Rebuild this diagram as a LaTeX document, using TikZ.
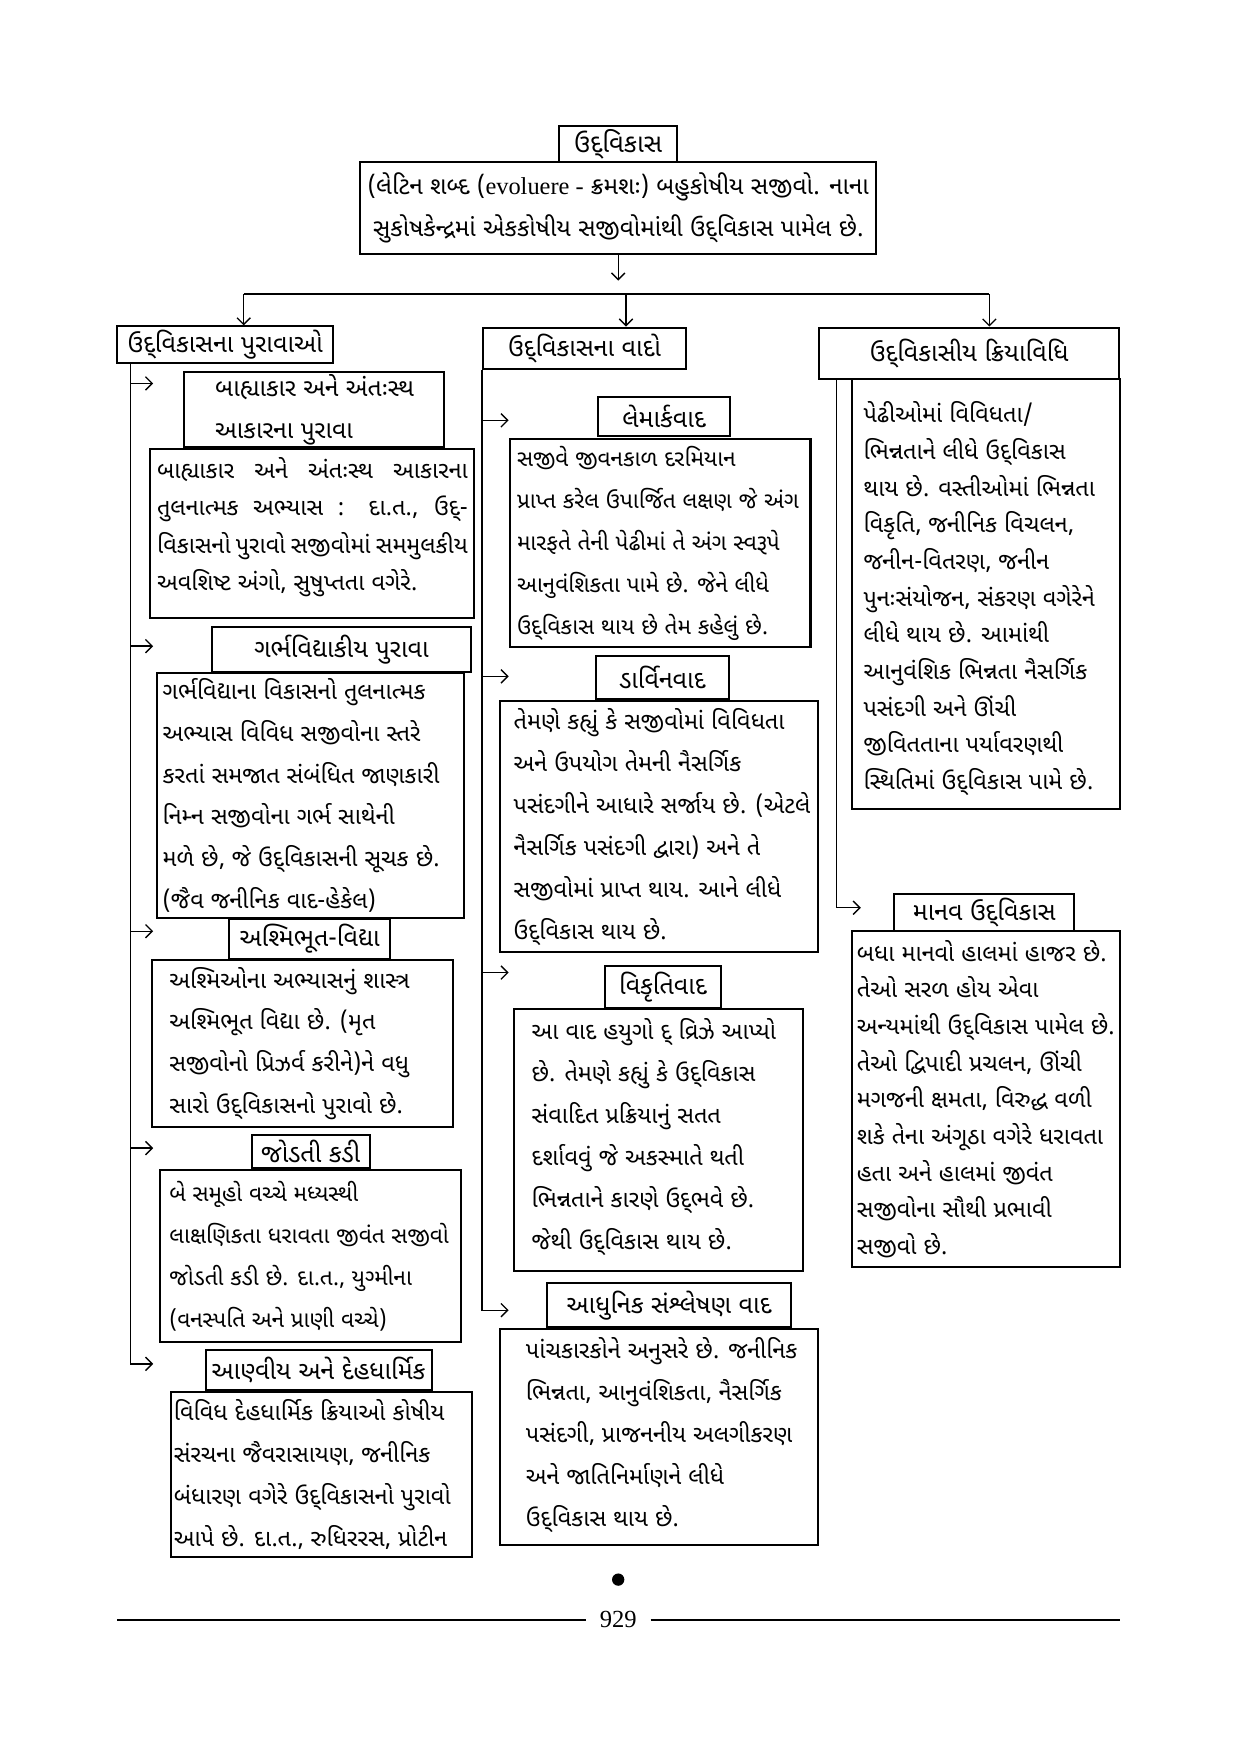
\documentclass[tikz,border=0pt]{standalone}
\usepackage{fontspec}
\setmainfont{Noto Sans Gujarati UI}[Script=Gujarati]
\newfontfamily\lat{Liberation Serif}
\usetikzlibrary{arrows.meta}
\newcommand\zn{^^^^200c}
\begin{document}
\begin{tikzpicture}[x=0.5pt,y=-0.5pt,
  box/.style={draw, line width=0.9pt, inner sep=0pt},
  hd/.style={box, align=center, font=\fontsize{11.2}{19}\selectfont},
  txt/.style={inner sep=0pt, anchor=west, align=left, font=\fontsize{10.5}{18.75}\selectfont},
  txs/.style={txt, font=\fontsize{10.1}{18.75}\selectfont},
  txc/.style={txt, font=\fontsize{10.5}{16.4}\selectfont},
  cn/.style={line width=0.6pt},
  ar/.style={cn, -{Straight Barb[length=3pt,width=6pt]}},
]
\useasboundingbox (0,0) rectangle (1110,1569);

% top
\node[hd, minimum width=53pt, minimum height=16pt, font=\fontsize{11.5}{19}\selectfont] (title) at (553,129) {ઉદ્\zn વિકાસ};
\node[hd, minimum width=231pt, minimum height=41pt, font=\fontsize{10.9}{19}\selectfont] (def) at (553,186)
  {(લેટિન શબ્દ ({\lat evoluere -} ક્રમશઃ) બહુકોષીય સજીવો. નાના\\ સુકોષકેન્દ્રમાં એકકોષીય સજીવોમાંથી ઉદ્\zn વિકાસ પામેલ છે.};

% column headers
\node[hd, minimum width=96.5pt, minimum height=16.5pt] (c1) at (201.5,308.5) {ઉદ્\zn વિકાસના પુરાવાઓ};
\node[hd, minimum width=91pt, minimum height=18.5pt] (c2) at (523,311.5) {ઉદ્\zn વિકાસના વાદો};
\node[hd, minimum width=134pt, minimum height=23pt] (c3) at (867,316) {ઉદ્\zn વિકાસીય ક્રિયાવિધિ};

% bus
\coordinate (dA) at (553,251);
\coordinate (busL) at (218,263);
\coordinate (busM) at (560,263);
\coordinate (busR) at (885,263);
\draw[ar] (def.south) -- (dA);
\draw[cn] (busL) -- (busR);
\draw[ar] (busL) -- (busL |- c1.north);
\draw[ar] (busM) -- (busM |- c2.north);
\draw[ar] (busR) -- (busR |- c3.north);

% column 1
\node[box, minimum width=116pt, minimum height=33.5pt] (h1) at (281,366.5) {};
\node[txt, font=\fontsize{11}{19}\selectfont] (h1t) at ([xshift=14pt]h1.west) {બાહ્યાકાર અને અંતઃસ્થ\\ આકારના પુરાવા};
\node[box, minimum width=145pt, minimum height=75.5pt] (b1) at (279,477.5) {};
\node[txt, align=justify, text width=139pt, yshift=3pt, font=\fontsize{10.5}{16.6}\selectfont] (b1t) at ([xshift=3.5pt]b1.west)
  {બાહ્યાકાર અને અંતઃસ્થ આકારના\linebreak તુલનાત્મક અભ્યાસ : દા.ત., ઉદ્-\linebreak વિકાસનો પુરાવો સજીવોમાં સમમુલકીય\linebreak અવશિષ્ટ અંગો, સુષુપ્તતા વગેરે.\par};
\node[hd, minimum width=115.5pt, minimum height=20pt] (h2) at (305.5,581) {ગર્ભવિદ્યાકીય પુરાવા};
\node[box, minimum width=137.5pt, minimum height=109.5pt] (b2) at (277.5,711.5) {};
\node[txt] (b2t) at ([xshift=3pt]b2.west)
  {ગર્ભવિદ્યાના વિકાસનો તુલનાત્મક\\ અભ્યાસ વિવિધ સજીવોના સ્તરે\\ કરતાં સમજાત સંબંધિત જાણકારી\\ નિમ્ન સજીવોના ગર્ભ સાથેની\\ મળે છે, જે ઉદ્\zn વિકાસની સૂચક છે.\\ (જૈવ જનીનિક વાદ-હેકેલ)};
\node[hd, minimum width=72pt, minimum height=18pt] (h3) at (277,840) {અશ્મિભૂત-વિદ્યા};
\node[box, minimum width=134.5pt, minimum height=74.5pt] (b3) at (270.5,933.5) {};
\node[txt] (b3t) at ([xshift=8pt]b3.west)
  {અશ્મિઓના અભ્યાસનું શાસ્ત્ર\\ અશ્મિભૂત વિદ્યા છે. (મૃત\\ સજીવોનો પ્રિઝર્વ કરીને)ને વધુ\\ સારો ઉદ્\zn વિકાસનો પુરાવો છે.};
\node[hd, minimum width=53pt, minimum height=15pt] (h4) at (278,1030) {જોડતી કડી};
\node[box, minimum width=134.5pt, minimum height=76.5pt] (b4) at (277.5,1123.5) {};
\node[txs] (b4t) at ([xshift=4.5pt]b4.west)
  {બે સમૂહો વચ્ચે મધ્યસ્થી\\ લાક્ષણિકતા ધરાવતા જીવંત સજીવો\\ જોડતી કડી છે. દા.ત., યુગ્મીના\\ (વનસ્પતિ અને પ્રાણી વચ્ચે)};
\node[hd, minimum width=101pt, minimum height=17.5pt] (h5) at (285,1225.5) {આણ્વીય અને દેહધાર્મિક};
\node[box, minimum width=134.5pt, minimum height=74pt] (b5) at (287.5,1319) {};
\node[txt] (b5t) at ([xshift=1.5pt]b5.west)
  {વિવિધ દેહધાર્મિક ક્રિયાઓ કોષીય\\ સંરચના જૈવરાસાયણ, જનીનિક\\ બંધારણ વગેરે ઉદ્\zn વિકાસનો પુરાવો\\ આપે છે. દા.ત., રુધિરરસ, પ્રોટીન};

\coordinate (t1) at (117,325);
\coordinate (a1) at (137,343);
\coordinate (a2) at (137,578);
\coordinate (a3) at (137,833);
\coordinate (a4) at (137,1027);
\coordinate (a5) at (137,1220);
\draw[ar] (t1) |- (a5);
\draw[ar] (t1 |- a1) -- (a1);
\draw[ar] (t1 |- a2) -- (a2);
\draw[ar] (t1 |- a3) -- (a3);
\draw[ar] (t1 |- a4) -- (a4);

% column 2
\node[hd, minimum width=59pt, minimum height=17.5pt] (l1h) at (594,372.5) {લેમાર્કવાદ};
\node[box, minimum width=134.5pt, minimum height=93pt] (l1b) at (590.5,486) {};
\node[txs] (l1t) at ([xshift=3.5pt]l1b.west)
  {સજીવે જીવનકાળ દરમિયાન\\ પ્રાપ્ત કરેલ ઉપાર્જિત લક્ષણ જે અંગ\\ મારફતે તેની પેઢીમાં તે અંગ સ્વરૂપે\\ આનુવંશિકતા પામે છે. જેને લીધે\\ ઉદ્\zn વિકાસ થાય છે તેમ કહેલું છે.};
\node[hd, minimum width=59.5pt, minimum height=19pt] (l2h) at (592.5,606) {ડાર્વિનવાદ};
\node[box, minimum width=142.5pt, minimum height=112.5pt] (l2b) at (589.5,739.5) {};
\node[txt] (l2t) at ([xshift=6.5pt]l2b.west)
  {તેમણે કહ્યું કે સજીવોમાં વિવિધતા\\ અને ઉપયોગ તેમની નૈસર્ગિક\\ પસંદગીને આધારે સર્જાય છે. (એટલે\\ નૈસર્ગિક પસંદગી દ્વારા) અને તે\\ સજીવોમાં પ્રાપ્ત થાય. આને લીધે\\ ઉદ્\zn વિકાસ થાય છે.};
\node[hd, minimum width=52pt, minimum height=19pt] (l3h) at (593,883) {વિકૃતિવાદ};
\node[box, minimum width=129pt, minimum height=117pt] (l3b) at (589,1020) {};
\node[txt, yshift=1.5pt] (l3t) at ([xshift=8pt]l3b.west)
  {આ વાદ હયુગો દ્\zn\ વ્રિઝે આપ્યો\\ છે. તેમણે કહ્યું કે ઉદ્\zn વિકાસ\\ સંવાદિત પ્રક્રિયાનું સતત\\ દર્શાવવું જે અકસ્માતે થતી\\ ભિન્નતાને કારણે ઉદ્\zn ભવે છે.\\ જેથી ઉદ્\zn વિકાસ થાય છે.};
\node[hd, minimum width=109.5pt, minimum height=19.5pt] (l4h) at (598.5,1167.5) {આધુનિક સંશ્લેષણ વાદ};
\node[box, minimum width=142.5pt, minimum height=96.5pt] (l4b) at (589.5,1285.5) {};
\node[txt, yshift=1pt] (l4t) at ([xshift=12pt]l4b.west)
  {પાંચકારકોને અનુસરે છે. જનીનિક\\ ભિન્નતા, આનુવંશિકતા, નૈસર્ગિક\\ પસંદગી, પ્રાજનનીય અલગીકરણ\\ અને જાતિનિર્માણને લીધે\\ ઉદ્\zn વિકાસ થાય છે.};

\coordinate (m1) at (455,376);
\coordinate (m2) at (455,605);
\coordinate (m3) at (455,870);
\coordinate (m4) at (455,1172);
\draw[ar] (c2.south west) |- (m4);
\draw[ar] (c2.south west |- m1) -- (m1);
\draw[ar] (c2.south west |- m2) -- (m2);
\draw[ar] (c2.south west |- m3) -- (m3);

% column 3
\node[box, minimum width=120pt, minimum height=192.5pt] (mb) at (882,531.5) {};
\node[txc, yshift=-2pt] (mbt) at ([xshift=5.5pt]mb.west)
  {પેઢીઓમાં વિવિધતા/\\ ભિન્નતાને લીધે ઉદ્\zn વિકાસ\\ થાય છે. વસ્તીઓમાં ભિન્નતા\\ વિકૃતિ, જનીનિક વિચલન,\\ જનીન-વિતરણ, જનીન\\ પુનઃસંયોજન, સંકરણ વગેરેને\\ લીધે થાય છે. આમાંથી\\ આનુવંશિક ભિન્નતા નૈસર્ગિક\\ પસંદગી અને ઊંચી\\ જીવિતતાના પર્યાવરણથી\\ સ્થિતિમાં ઉદ્\zn વિકાસ પામે છે.};
\node[hd, minimum width=80.5pt, minimum height=16.5pt] (hh) at (880.5,816.5) {માનવ ઉદ્\zn વિકાસ};
\node[box, minimum width=120pt, minimum height=150pt] (hb) at (882,983) {};
\node[txc] (hbt) at ([xshift=2.5pt]hb.west)
  {બધા માનવો હાલમાં હાજર છે.\\ તેઓ સરળ હોય એવા\\ અન્યમાંથી ઉદ્\zn વિકાસ પામેલ છે.\\ તેઓ દ્વિપાદી પ્રચલન, ઊંચી\\ મગજની ક્ષમતા, વિરુદ્ધ વળી\\ શકે તેના અંગૂઠા વગેરે ધરાવતા\\ હતા અને હાલમાં જીવંત\\ સજીવોના સૌથી પ્રભાવી\\ સજીવો છે.};
\coordinate (t3) at (748,339);
\coordinate (n1) at (770,812);
\draw[ar] (t3) |- (n1);

% footer
\node[circle, fill, inner sep=0pt, minimum size=5.5pt] (dot) at (553,1413) {};
\node[font=\lat\fontsize{11}{12}\selectfont, inner sep=0pt] (pg) at (553,1449) {929};
\coordinate (rl) at (105,1449);
\coordinate (rr) at (1002,1449);
\draw[line width=0.7pt] (rl) -- ([xshift=-6pt]pg.west);
\draw[line width=0.7pt] ([xshift=6pt]pg.east) -- (rr);
\end{tikzpicture}
\end{document}
